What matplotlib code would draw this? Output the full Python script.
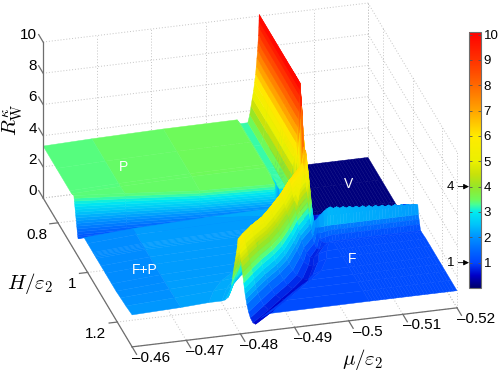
import matplotlib
matplotlib.use("Agg")
import matplotlib.pyplot as plt
import numpy as np
from matplotlib.cm import ScalarMappable
from matplotlib.colors import LinearSegmentedColormap, Normalize
from mpl_toolkits.mplot3d import proj3d

plt.rcParams["font.family"] = ["Liberation Sans", "DejaVu Sans"]
plt.rcParams["mathtext.fontset"] = "cm"

# colorbar: value, colour
cbar_values = [0, 0.5, 1, 1.5, 2, 2.5, 3, 3.3, 3.5, 4, 4.5, 5, 6, 7, 8, 9, 10.1]
cbar_colors = ["#000069", "#0000c8", "#0046ff", "#0069ff", "#0091ff", "#00c3fa", "#00ebf0",
               "#46ff96", "#6efa5a", "#96e628", "#c8e10a", "#ebf000", "#ffeb00", "#ffa500",
               "#ff6900", "#ff3200", "#ff0000"]

mu_ticks = [-0.46, -0.47, -0.48, -0.49, -0.5, -0.51, -0.52]
mu_labels = ["\u20130.46", "\u20130.47", "\u20130.48", "\u20130.49", "\u20130.5", "\u20130.51", "\u20130.52"]
H_ticks = [0.8, 1.0, 1.2]
H_labels = ["0.8", "1", "1.2"]
R_ticks = [0, 2, 4, 6, 8, 10]

H_back = [0.70, 0.79, 0.88, 0.892]
H_base_wall = [0.907, 0.9115, 0.916, 0.9205, 0.925, 0.9295, 0.934, 0.937, 0.94, 0.943, 0.946, 0.949, 0.952,
               0.955, 0.958, 0.961, 0.964]
H_front = [0.976, 1.0, 1.036, 1.0402, 1.0444, 1.0486, 1.054, 1.06, 1.09, 1.12, 1.162, 1.192, 1.222, 1.258, 1.30]

# the wall between P and F+P runs at a slant, H of its first four columns per level
wall_levels = [3.45, 3.3, 3.15, 3.0, 2.85, 2.7, 2.55, 2.4, 2.25, 2.1, 1.95, 1.8, 1.65, 1.5, 1.35, 1.25, 1.15]
H_wall_0 = [0.907, 0.9088, 0.9106, 0.9124, 0.9142, 0.916, 0.9178, 0.9196, 0.9214, 0.9232, 0.925, 0.9268,
            0.9286, 0.9304, 0.9322, 0.9337, 0.9352]
H_wall_1 = [0.922, 0.9232, 0.9244, 0.9256, 0.9268, 0.9277, 0.9286, 0.9298, 0.931, 0.9322, 0.9334, 0.9346,
            0.9358, 0.9367, 0.9376, 0.9388, 0.94]
H_wall_2 = [0.946, 0.9463, 0.9466, 0.9466, 0.9466, 0.9469, 0.9472, 0.9472, 0.9472, 0.9475, 0.9478, 0.9481,
            0.9484, 0.9484, 0.9484, 0.9487, 0.949]
H_wall_3 = [0.955, 0.9553, 0.9556, 0.9556, 0.9556, 0.9559, 0.9562, 0.9565, 0.9568, 0.9568, 0.9568, 0.9571,
            0.9574, 0.9574, 0.9574, 0.9577, 0.958]
wall_foot = [0.15, 0.18, 0.2, 0.25, 0.3, 0.35, 0.4, 0.43, 0.45, 0.48, 0.5, 0.53, 0.55, 0.58, 0.6, 0.63, 0.65]
wall_far = [0.3, 0.38, 0.45, 0.53, 0.6, 0.68, 0.75, 0.81, 0.87, 0.92, 0.97, 1.02, 1.07, 1.12, 1.16, 1.21, 1.26]

mu_left = [0.46, 0.469]
mu_right = [0.5038, 0.5044, 0.505, 0.5056, 0.5062, 0.5068, 0.5074, 0.508, 0.5086, 0.5092, 0.5098,
            0.5104, 0.511, 0.5116, 0.5122, 0.5128, 0.5134, 0.514, 0.5146, 0.5152, 0.5158, 0.5164, 0.517,
            0.5176, 0.5182, 0.5188, 0.5194, 0.52]
mu_back = [0.4822, 0.49582,
           0.49642, 0.4978, 0.49816, 0.4984, 0.49864, 0.49888, 0.49906, 0.49924, 0.49936, 0.49948, 0.4996, 0.49969,
           0.49977, 0.49984, 0.49987, 0.4999,
           0.49999, 0.50008, 0.50017, 0.50026, 0.50035, 0.50044, 0.50053, 0.50062, 0.50071, 0.5008, 0.50098, 0.50116,
           0.50134, 0.50152, 0.50188, 0.5023, 0.5026, 0.5029, 0.5032, 0.5035]
mu_100 = [0.49396, 0.4954,
          0.496, 0.49738, 0.49774, 0.49798, 0.49822, 0.49846, 0.49864, 0.49882, 0.49894, 0.49906, 0.49918, 0.49927,
          0.49935, 0.49942, 0.49945, 0.49948,
          0.49956, 0.49963, 0.49971, 0.49978, 0.49986, 0.49994, 0.50003, 0.50011, 0.5002, 0.50028, 0.50039, 0.50049,
          0.50062, 0.50074, 0.50099, 0.50124, 0.50162, 0.502, 0.5029, 0.5035]
mu_104 = [0.4933, 0.49468,
          0.49534, 0.49672, 0.49708, 0.49732, 0.49756, 0.4978, 0.49798, 0.49816, 0.49828, 0.4984, 0.49852, 0.49861,
          0.49869, 0.49876, 0.49879, 0.49882,
          0.49891, 0.49899, 0.49908, 0.49917, 0.49926, 0.49934, 0.49944, 0.49954, 0.49964, 0.49974, 0.49985, 0.49997,
          0.50011, 0.50026, 0.50055, 0.50084, 0.50127, 0.5017, 0.5026, 0.5032]
mu_106 = [0.49258, 0.4939,
          0.49462, 0.496, 0.49636, 0.4966, 0.49684, 0.49708, 0.49726, 0.49744, 0.49756, 0.49768, 0.4978, 0.49789,
          0.49797, 0.49804, 0.49807, 0.4981,
          0.49819, 0.49828, 0.49837, 0.49846, 0.49855, 0.49864, 0.49875, 0.49885, 0.49896, 0.49906, 0.49918, 0.4993,
          0.49945, 0.4996, 0.4999, 0.5002, 0.50065, 0.5011, 0.502, 0.5029]
mu_109 = [0.4894, 0.4918, 0.4924, 0.493, 0.49348, 0.4939, 0.49432, 0.49462] + [0.4948] * 10 + [
          0.49494, 0.49507, 0.49521, 0.49534, 0.49548, 0.49561, 0.49577, 0.49593, 0.49609, 0.49624, 0.49642, 0.4966,
          0.49683, 0.49705, 0.4975, 0.49795, 0.49863, 0.4993, 0.5002, 0.5017]
mu_112 = [0.487, 0.4894, 0.49, 0.4906, 0.49108, 0.4915, 0.49192, 0.49222] + [0.4924] * 10 + [
          0.49258, 0.49276, 0.49294, 0.49312, 0.4933, 0.49348, 0.49369, 0.4939, 0.49411, 0.49432, 0.49456, 0.4948,
          0.4951, 0.4954, 0.496, 0.4966, 0.4975, 0.4984, 0.4993, 0.5008]
mu_116 = [0.48382, 0.48622, 0.48682, 0.48742, 0.4879, 0.48832, 0.48874, 0.48904] + [0.48922] * 10 + [
          0.48943, 0.48964, 0.48985, 0.49006, 0.49027, 0.49048, 0.49074, 0.49099, 0.49124, 0.49149, 0.49177, 0.49205,
          0.49241, 0.49276, 0.49347, 0.49418, 0.49524, 0.4963, 0.4972, 0.4987]
mu_119 = [0.4816, 0.484, 0.4846, 0.4852, 0.48568, 0.4861, 0.48652, 0.48682] + [0.487] * 10 + [
          0.4872, 0.4874, 0.4876, 0.48779, 0.48799, 0.48819, 0.48842, 0.48865, 0.48888, 0.48911, 0.48938, 0.48964,
          0.48997, 0.4903, 0.49096, 0.49162, 0.49261, 0.4936, 0.4945, 0.496]
mu_122 = [0.4786, 0.481, 0.4816, 0.4822, 0.48268, 0.4831, 0.48352, 0.48382] + [0.484] * 10 + [
          0.4842, 0.4844, 0.4846, 0.48479, 0.48499, 0.48519, 0.48542, 0.48565, 0.48588, 0.48611, 0.48638, 0.48664,
          0.48697, 0.4873, 0.48796, 0.48862, 0.48961, 0.4906, 0.4915, 0.493]
mu_126 = [0.4762, 0.4786,
          0.4795, 0.47992, 0.48016, 0.48034, 0.48052, 0.4807, 0.48082, 0.48094, 0.48106, 0.48118, 0.4813, 0.48139,
          0.48147, 0.48154, 0.48157, 0.4816,
          0.48177, 0.48194, 0.48211, 0.48227, 0.48244, 0.4826, 0.4828, 0.483, 0.4832, 0.48339, 0.48361, 0.48383,
          0.48411, 0.48439, 0.48495, 0.48551, 0.48635, 0.48718, 0.48808, 0.48958]
mu_130 = [0.47416, 0.47656,
          0.47716, 0.47776, 0.47812, 0.47836, 0.47854, 0.47866, 0.47881, 0.47896, 0.47908, 0.4792, 0.47929, 0.47938,
          0.47944, 0.4795, 0.47953, 0.47956,
          0.47966, 0.47975, 0.47985, 0.47995, 0.48005, 0.48014, 0.48026, 0.48037, 0.48049, 0.4806, 0.48073, 0.48086,
          0.48102, 0.48118, 0.4815, 0.48183, 0.48231, 0.4828, 0.4837, 0.4852]
mu_middle = [mu_back] * 22 + [mu_100] + [mu_104] * 5 + [mu_106, mu_109, mu_112, mu_116, mu_119, mu_122, mu_126, mu_130]

# R along each row of H: plateau, left of crest, crest, right of crest, foot, far side
plateau_back = [3.33, 3.42, 3.5, 3.52]
plateau_fp = [1.85, 2.05, 2.2, 2.3]
left_back = [3.25, 3.25, 3.75, 4.3, 4.8, 5.3, 5.8, 6.3, 6.8, 7.3, 7.8, 8.3, 8.8, 9.3, 9.7]
right_back = [9.65, 9.2, 8.8, 8.35, 7.0, 5.6, 5.25, 4.9, 4.6, 4.3, 3.85, 3.4, 2.8, 2.2, 1.24, 0.5, 0.25, 0.1]
left_104 = [2.35, 2.4, 2.7, 3.2, 3.6, 4.0, 4.4, 4.8, 5.1, 5.4, 5.7, 6.0, 6.3, 6.6, 6.85]
right_104 = [6.77, 6.54, 6.25, 5.96, 5.7, 5.43, 5.08, 4.74, 4.39, 4.04, 3.66, 3.29, 2.94, 2.59]
teeth_104 = [2.95, 2.83, 2.91, 2.79, 2.87, 2.75, 2.84, 2.71, 2.8, 2.67, 2.77, 2.64, 2.73, 2.6, 2.7, 2.57, 2.66,
             2.53, 2.62, 2.49, 2.6, 2.46, 2.55, 2.42, 2.52, 2.38, 2.47, 2.4]

R_rows = []
for _ in H_back:
    R_rows.append(plateau_back + left_back + [10.1] + right_back + [0.1, 0.1] + [0.1] * 28)
for level, foot, far in zip(wall_levels, wall_foot, wall_far):
    R_rows.append([level] * 4 + left_back + [10.1] + right_back + [0.1, foot] + [far] * 28)
R_rows += [
    plateau_fp + [2.35, 2.5, 3.2, 4.3, 4.8, 5.3, 5.8, 6.3, 6.8, 7.3, 7.8, 8.3, 8.8, 9.3, 9.7, 10.1]
    + right_back + [0.1, 0.7] + [1.46] * 28,
    plateau_fp + [2.35, 2.5, 2.9, 3.6, 4.2, 4.8, 5.4, 5.9, 6.4, 6.9, 7.3, 7.8, 8.2, 8.6, 8.85, 9.0,
     8.68, 8.35, 7.95, 7.54, 7.18, 6.81, 6.33, 5.84, 5.36, 4.87, 4.35, 3.82, 3.33, 2.84, 2.12, 1.55, 1.06, 0.9,
     1.3, 1.6] + [1.83] * 28,
    plateau_fp + left_104 + [7.0] + right_104 + [2.2, 2.15, 2.25, 2.4, 2.7, 2.85] + teeth_104,
    plateau_fp + left_104 + [7.0] + right_104 + [2.07, 1.9, 1.8, 1.8, 1.82, 1.85] + [1.85] * 28,
    plateau_fp + left_104 + [7.0] + right_104 + [2.07, 1.66, 1.5, 1.5, 1.55, 1.6] + [1.6] * 28,
    plateau_fp + left_104 + [7.0] + right_104 + [2.07, 1.66, 1.32, 1.2, 1.25, 1.3] + [1.35] * 28,
    plateau_fp + left_104 + [7.0] + right_104 + [2.07, 1.66, 1.32, 1.1, 0.95, 1.0] + [1.05] * 28,
    plateau_fp + [2.35, 2.4, 2.6, 3.0, 3.4, 3.7, 4.05, 4.4, 4.7, 5.0, 5.3, 5.6, 5.85, 6.15, 6.3, 6.4,
     6.17, 5.94, 5.65, 5.37, 5.11, 4.86, 4.52, 4.18, 3.83, 3.49, 3.12, 2.75, 2.41, 2.07, 1.56, 1.16, 0.81, 0.7,
     0.9, 1.05] + [1.05] * 28,
    plateau_fp + [2.35, 2.4, 2.7, 3.76, 4.69, 5.39] + [5.9] * 10 +
    [5.69, 5.48, 5.22, 4.96, 4.73, 4.5, 4.19, 3.87, 3.56, 3.25, 2.91, 2.57, 2.26, 1.95, 1.48, 1.12, 0.8, 0.7,
     0.95, 1.08] + [1.1] * 28,
    plateau_fp + [2.35, 2.4, 2.7, 3.65, 4.5, 5.14] + [5.6] * 10 +
    [5.41, 5.21, 4.97, 4.72, 4.5, 4.28, 3.99, 3.69, 3.4, 3.1, 2.78, 2.46, 2.17, 1.88, 1.44, 1.09, 0.8, 0.7,
     0.95, 1.08] + [1.1] * 28,
    plateau_fp + [2.35, 2.4, 2.72, 3.66, 4.46, 5.06] + [5.5] * 10 +
    [5.31, 5.11, 4.87, 4.62, 4.4, 4.18, 3.89, 3.59, 3.3, 3.0, 2.68, 2.36, 2.07, 1.78, 1.34, 0.99, 0.7, 0.6,
     0.9, 1.08] + [1.1] * 28,
    plateau_fp + [2.35, 2.4, 2.76, 3.69, 4.48, 5.07] + [5.5] * 10 +
    [5.3, 5.1, 4.86, 4.61, 4.39, 4.16, 3.87, 3.57, 3.28, 2.98, 2.66, 2.33, 2.04, 1.74, 1.29, 0.95, 0.65, 0.55,
     0.85, 1.08] + [1.1] * 28,
    [1.9, 2.08, 2.22, 2.3, 2.35, 2.41, 2.8, 3.71, 4.49, 5.08] + [5.5] * 10 +
    [5.3, 5.1, 4.85, 4.6, 4.38, 4.15, 3.85, 3.55, 3.25, 2.95, 2.63, 2.3, 2.0, 1.7, 1.25, 0.9, 0.6, 0.5,
     0.85, 1.08] + [1.1] * 28,
    [1.95, 2.1, 2.25, 2.3, 2.35, 2.55, 2.8, 3.1, 3.4, 3.7, 4.0, 4.2, 4.4, 4.6, 4.85, 5.1, 5.3, 5.5, 5.6, 5.7,
     5.49, 5.28, 5.02, 4.76, 4.53, 4.3, 3.99, 3.67, 3.36, 3.05, 2.71, 2.37, 2.06, 1.75, 1.28, 0.92, 0.6, 0.5,
     0.85, 1.08] + [1.1] * 28,
    [2.05, 2.15, 2.25, 2.25, 2.29, 2.44, 2.7, 3.2, 3.6, 3.98, 4.3, 4.6, 4.85, 5.1, 5.3, 5.5, 5.7, 5.9, 6.0, 6.1,
     5.88, 5.65, 5.37, 5.09, 4.84, 4.59, 4.25, 3.92, 3.58, 3.24, 2.88, 2.52, 2.18, 1.84, 1.34, 0.95, 0.61, 0.5,
     0.85, 1.08] + [1.1] * 28,
]

mu_grid = -np.array([mu_left + row + mu_right for row in mu_middle])
H_rows = H_back + H_base_wall + H_front
H_grid = np.tile(np.array(H_rows)[:, None], (1, mu_grid.shape[1]))
H_grid[4:21, 0] = H_wall_0
H_grid[4:21, 1] = H_wall_1
H_grid[4:21, 2] = H_wall_2
H_grid[4:21, 3] = H_wall_3
R_grid = np.array(R_rows)

cmap = LinearSegmentedColormap.from_list("bar", [(v / 10.1, c) for v, c in zip(cbar_values, cbar_colors)], N=512)
norm = Normalize(0, 10.1)

fig = plt.figure(figsize=(5, 3.73), dpi=100)
ax = fig.add_axes([-5 / 500, -57 / 373, 496.7 / 500, 496.7 / 373], projection="3d", proj_type="ortho")
ax.set_box_aspect((336.4, 343.9, 174.5))
ax.view_init(elev=26.63, azim=-105)
ax.set_xlim(-0.46, -0.52)
ax.set_ylim(1.3, 0.7)
ax.set_zlim(0, 10)
ax.set_axis_off()
ax.computed_zorder = False

grid = dict(color="#c4c4c4", lw=0.7, ls=(0, (1, 2)), zorder=1)
for m in mu_ticks:
    ax.plot([m, m], [0.7, 1.3], [0, 0], **grid)
    ax.plot([m, m], [0.7, 0.7], [0, 10], **grid)
for h in [0.7] + H_ticks + [1.3]:
    ax.plot([-0.46, -0.52], [h, h], [0, 0], **grid)
    ax.plot([-0.52, -0.52], [h, h], [0, 10], **grid)
for r in R_ticks:
    ax.plot([-0.46, -0.52], [0.7, 0.7], [r, r], **grid)
    ax.plot([-0.52, -0.52], [0.7, 1.3], [r, r], **grid)

surf = ax.plot_surface(mu_grid, H_grid, R_grid, rstride=1, cstride=1, cmap=cmap, norm=norm, shade=False,
                       linewidth=0.3, antialiased=True, zorder=2)
surf.set_edgecolor("face")


def tick_label(m, h, r, text, **kwargs):
    # 3d point to the flat coordinates of the axes
    x2, y2, _ = proj3d.proj_transform(m, h, r, ax.get_proj())
    ax.text2D(x2, y2, text, transform=ax.transData, va="center", fontsize=11, zorder=4, **kwargs)


frame = dict(color="#6e6e6e", lw=0.9, zorder=3)
ax.plot([-0.46, -0.46], [0.7, 0.7], [0, 10], **frame)
ax.plot([-0.46, -0.46], [0.7, 1.3], [0, 0], **frame)
ax.plot([-0.46, -0.52], [1.3, 1.3], [0, 0], **frame)
for r in R_ticks:
    ax.plot([-0.46, -0.46], [0.7, 0.67], [r, r], **frame)
    tick_label(-0.4597, 0.671, r, str(r), ha="right")
for m, lab in zip(mu_ticks, mu_labels):
    ax.plot([m, m], [1.3, 1.33], [0, 0], **frame)
    tick_label(m - 0.0021, 1.35, 0, lab, ha="center")
for h, lab in zip(H_ticks, H_labels):
    ax.plot([-0.46, -0.4585], [h, h], [0, 0], **frame)
    tick_label(-0.4569, h + 0.04, 0, lab, ha="right")

fig.text(13 / 500, 1 - 120 / 373, r"$R_{\mathrm{W}}^{\kappa}$", rotation=90, ha="center", va="center", fontsize=15)
fig.text(30 / 500, 1 - 284 / 373, r"$H/\varepsilon_2$", ha="center", va="center", fontsize=15)
fig.text(363 / 500, 1 - 360 / 373, r"$\mu/\varepsilon_2$", ha="center", va="center", fontsize=15)

for lab, x, y in [("P", 124, 167), ("F+P", 145, 270), ("V", 349, 184), ("F", 352, 259)]:
    fig.text(x / 500, 1 - y / 373, lab, color="white", ha="center", va="center", fontsize=10, zorder=5)

cax = fig.add_axes([469 / 500, 85 / 373, 12 / 500, 256 / 373])
cb = fig.colorbar(ScalarMappable(norm=norm, cmap=cmap), cax=cax)
cb.set_ticks(range(1, 11))
cb.outline.set_edgecolor("#6e6e6e")
cb.outline.set_linewidth(0.8)
cax.tick_params(axis="y", direction="in", length=2.5, width=0.6, left=True, right=True, color="#555555",
                labelsize=9.5, pad=2)
for v in [1, 4]:
    cax.annotate(str(v), xy=(0, v), xycoords=("axes fraction", "data"), xytext=(-13.5, 0),
                 textcoords="offset points", ha="center", va="center", fontsize=9.5,
                 arrowprops=dict(arrowstyle="-|>", color="black", lw=0.6, shrinkA=1, shrinkB=0, mutation_scale=8))

fig.savefig("out.png", dpi=100)
